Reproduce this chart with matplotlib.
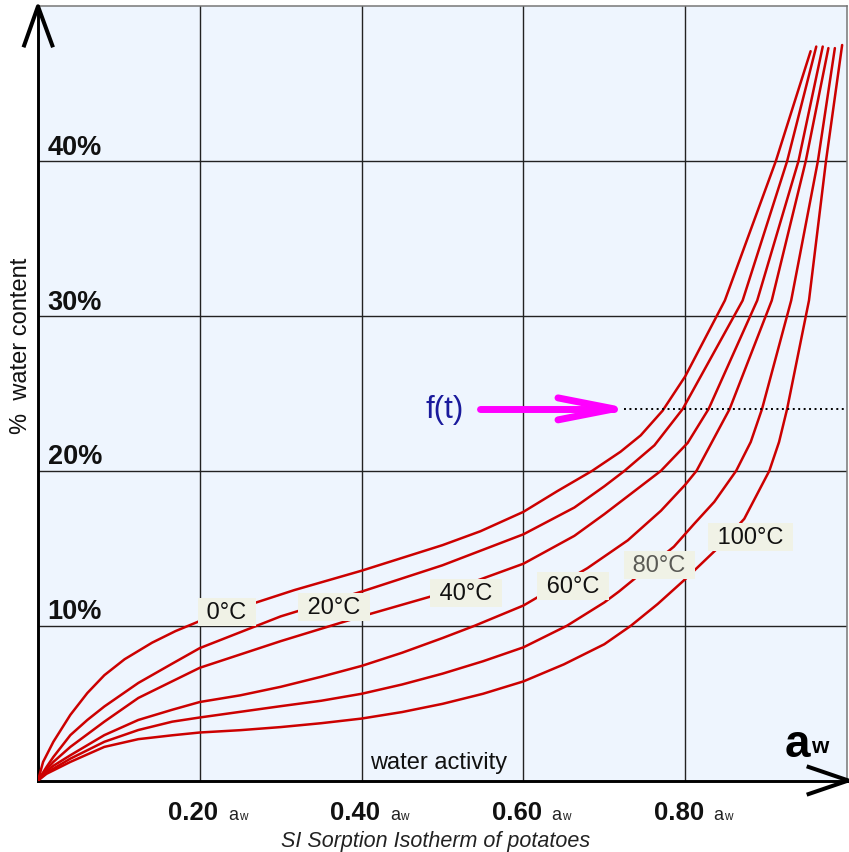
import matplotlib
matplotlib.use('Agg')
import matplotlib.pyplot as plt

plt.rcParams['font.family'] = ['Liberation Sans', 'DejaVu Sans']

# ---------------- data ----------------
temps = ['0°C', '20°C', '40°C', '60°C', '80°C', '100°C']

aw_0 = [0, 0.0063, 0.019, 0.040, 0.061, 0.082, 0.107, 0.141, 0.170, 0.200, 0.267, 0.317, 0.40, 0.50,
        0.547, 0.60, 0.642, 0.685, 0.720, 0.745, 0.772, 0.80, 0.849, 0.912, 0.955]
w_0 = [0, 1.2, 2.5, 4.24, 5.65, 6.8, 7.83, 8.9, 9.65, 10.3, 11.45, 12.3, 13.55, 15.2,
       16.1, 17.35, 18.69, 20.0, 21.23, 22.29, 23.88, 26.1, 31.0, 40.0, 47.1]

aw_20 = [0, 0.0105, 0.019, 0.040, 0.061, 0.082, 0.124, 0.166, 0.200, 0.30, 0.40, 0.50, 0.60,
         0.663, 0.70, 0.725, 0.762, 0.797, 0.871, 0.926, 0.962]
w_20 = [0, 0.87, 1.52, 2.93, 3.91, 4.78, 6.3, 7.55, 8.55, 10.6, 12.2, 13.9, 15.9,
        17.63, 19.0, 20.0, 21.65, 24.0, 31.0, 40.0, 47.4]

aw_40 = [0, 0.0105, 0.019, 0.040, 0.082, 0.124, 0.166, 0.200, 0.30, 0.40, 0.50, 0.60, 0.663,
         0.70, 0.725, 0.770, 0.803, 0.829, 0.889, 0.940, 0.970]
w_40 = [0, 0.72, 1.2, 2.17, 3.8, 5.33, 6.41, 7.28, 9.0, 10.6, 12.1, 14.0, 15.8,
        17.2, 18.2, 20.0, 21.8, 24.0, 31.0, 40.0, 47.4]

aw_60 = [0, 0.0105, 0.019, 0.040, 0.082, 0.124, 0.166, 0.200, 0.25, 0.30, 0.35, 0.40, 0.45, 0.50,
         0.54, 0.60, 0.679, 0.729, 0.770, 0.80, 0.814, 0.855, 0.907, 0.949, 0.977]
w_60 = [0, 0.59, 0.95, 1.63, 2.93, 3.91, 4.57, 5.07, 5.5, 6.05, 6.7, 7.4, 8.25, 9.2,
        10.0, 11.3, 13.71, 15.51, 17.42, 19.1, 20.0, 24.0, 31.0, 40.0, 47.3]

aw_80 = [0, 0.0105, 0.040, 0.082, 0.124, 0.166, 0.200, 0.30, 0.35, 0.40, 0.45, 0.50, 0.55, 0.60,
         0.654, 0.70, 0.718, 0.786, 0.811, 0.836, 0.863, 0.881, 0.895, 0.931, 0.964, 0.985]
w_80 = [0, 0.5, 1.41, 2.5, 3.26, 3.8, 4.07, 4.8, 5.15, 5.6, 6.2, 6.9, 7.7, 8.6,
        10.0, 11.5, 12.2, 15.1, 16.57, 18.0, 20.0, 21.86, 24.0, 31.0, 40.0, 47.3]

aw_100 = [0, 0.0105, 0.040, 0.082, 0.124, 0.166, 0.200, 0.25, 0.30, 0.35, 0.40, 0.45, 0.50, 0.55,
          0.60, 0.65, 0.70, 0.733, 0.766, 0.80, 0.840, 0.873, 0.904, 0.916, 0.926, 0.953, 0.974, 0.994]
w_100 = [0, 0.43, 1.2, 2.17, 2.67, 2.92, 3.1, 3.25, 3.45, 3.7, 4.0, 4.42, 4.95, 5.6,
         6.4, 7.5, 8.8, 10.0, 11.4, 13.0, 15.0, 16.9, 20.0, 21.86, 24.0, 31.0, 40.0, 47.5]

label_aw = [0.2333, 0.3657, 0.529, 0.661, 0.768, 0.8806]
label_w = [10.9, 11.22, 12.13, 12.56, 13.92, 15.72]
label_colors = ['#111111', '#111111', '#111111', '#111111', '#5a5a55', '#111111']

x_ticks = [0.2, 0.4, 0.6, 0.8]
x_tick_labels = ['0.20', '0.40', '0.60', '0.80']
y_ticks = [10, 20, 30, 40]
y_tick_labels = ['10%', '20%', '30%', '40%']

ft_level = 24.0
ft_text_aw = 0.503
ft_arrow_start = 0.546
ft_arrow_end = 0.712
ft_dotted_start = 0.7245

# ---------------- figure ----------------
W, H = 849, 853
fig = plt.figure(figsize=(W / 100, H / 100), dpi=100)
ax_w_px, ax_h_px = 809, 774.2
ax = fig.add_axes([38 / W, (H - 781.5) / H, ax_w_px / W, ax_h_px / H])
ax.set_facecolor('#eef5fe')
ax.set_xlim(0, 1)
ax.set_ylim(0, 50)
ax.set_xticks(x_ticks)
ax.set_yticks(y_ticks)
ax.tick_params(length=0, labelbottom=False, labelleft=False)
ax.grid(True, color='#222222', lw=1.0)
ax.set_axisbelow(True)
for s in ['top', 'right']:
    ax.spines[s].set_color('#777777')
    ax.spines[s].set_linewidth(1.1)
for s in ['left', 'bottom']:
    ax.spines[s].set_color('black')
    ax.spines[s].set_linewidth(2.1)

px_x = ax_w_px / 1.0     # pixels per unit aw
px_y = ax_h_px / 50.0    # pixels per % water

# curves
for aw, w in [(aw_0, w_0), (aw_20, w_20), (aw_40, w_40), (aw_60, w_60), (aw_80, w_80), (aw_100, w_100)]:
    ax.plot(aw, w, color='#cc0000', lw=1.8, solid_joinstyle='round', solid_capstyle='round', zorder=3)

# temperature labels
for t, x, y, c in zip(temps, label_aw, label_w, label_colors):
    ax.text(x, y, ' ' + t + ' ', ha='center', va='center', fontsize=17, color=c,
            bbox=dict(boxstyle='square,pad=0.12', fc='#f0f2e6', ec='none'), zorder=5)

# y tick labels (inside the plot, above the grid line)
for t, lab in zip(y_ticks, y_tick_labels):
    ax.annotate(lab, xy=(0, t), xytext=(7, 5.3), textcoords='offset points',
                ha='left', va='baseline', fontsize=19.5, fontweight='bold', color='#111111')

# x tick labels: bold number + small a_w
for t, lab in zip(x_ticks, x_tick_labels):
    ax.annotate(lab, xy=(t, 0), xytext=(13.4, -27.7), textcoords='offset points',
                ha='right', va='baseline', fontsize=18.5, fontweight='bold', color='#111111',
                annotation_clip=False)
    ax.annotate('a', xy=(t, 0), xytext=(20.3, -27.7), textcoords='offset points',
                ha='left', va='baseline', fontsize=13, color='#222222', annotation_clip=False)
    ax.annotate('w', xy=(t, 0), xytext=(28.0, -27.7), textcoords='offset points',
                ha='left', va='baseline', fontsize=8.5, color='#222222', annotation_clip=False)

# axis arrows
ax.plot([-14.5 / ax_w_px, 0, 15 / ax_w_px], [1 - 41 / ax_h_px, 1, 1 - 41 / ax_h_px],
        transform=ax.transAxes, clip_on=False, color='black', lw=2.9, solid_capstyle='butt', zorder=6)
apex_x = 1 + 1.3 / ax_w_px
ax.plot([1, apex_x], [0, 0], transform=ax.transAxes, clip_on=False, color='black', lw=2.1, zorder=6)
ax.plot([apex_x - 41.6 / ax_w_px, apex_x, apex_x - 41.6 / ax_w_px],
        [14.2 / ax_h_px, 0, -14.2 / ax_h_px],
        transform=ax.transAxes, clip_on=False, color='black', lw=2.9, solid_capstyle='butt', zorder=6)

# big a_w
ax.text(0.923, 0.0316, 'a', transform=ax.transAxes, ha='left', va='baseline',
        fontsize=33, fontweight='bold', color='black')
ax.text(0.956, 0.0368, 'w', transform=ax.transAxes, ha='left', va='baseline',
        fontsize=16, fontweight='bold', color='black')

# water activity label
ax.text(0.495, 0.8, 'water activity', ha='center', va='baseline', fontsize=17, color='#111111')

# f(t) annotation
ax.text(ft_text_aw, ft_level, 'f(t)', ha='center', va='center', fontsize=22.5, color='#1a1a9c')
ax.plot([ft_arrow_start, ft_arrow_end], [ft_level, ft_level], color='#ff00ff', lw=5,
        solid_capstyle='round', zorder=4)
ax.plot([ft_arrow_end - 56 / px_x, ft_arrow_end, ft_arrow_end - 56 / px_x],
        [ft_level + 11 / px_y, ft_level, ft_level - 11 / px_y],
        color='#ff00ff', lw=5, solid_capstyle='round', solid_joinstyle='round', zorder=4)
ax.plot([ft_dotted_start, 1.0], [ft_level, ft_level], color='black', lw=1.4,
        linestyle=(0, (1, 1.8)), zorder=4)

# y label and caption
fig.text(21.5 / W, 1 - 346 / H, '%  water content', rotation=90, ha='center', va='center',
         fontsize=17, color='#111111')
fig.text(435.5 / W, 6 / H, 'SI Sorption Isotherm of potatoes', ha='center', va='baseline',
         fontsize=15.5, style='italic', color='#222222')

fig.savefig('out.png', dpi=100)
